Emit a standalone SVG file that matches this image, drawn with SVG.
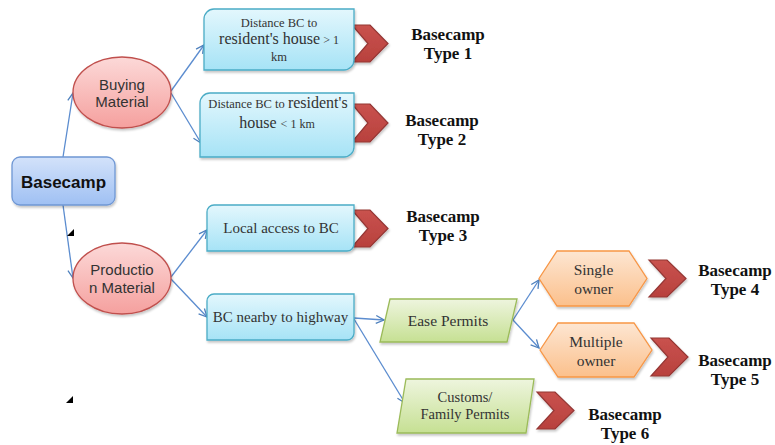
<svg xmlns="http://www.w3.org/2000/svg" width="775" height="445" viewBox="0 0 775 445">
<defs>
<linearGradient id="gBlue" x1="0" y1="0" x2="0" y2="1"><stop offset="0" stop-color="#d3e2fa"/><stop offset="1" stop-color="#9fc0f3"/></linearGradient>
<linearGradient id="gPink" x1="0" y1="0" x2="0" y2="1"><stop offset="0" stop-color="#fcd9d8"/><stop offset="1" stop-color="#f5a09e"/></linearGradient>
<linearGradient id="gCyan" x1="0" y1="0" x2="0" y2="1"><stop offset="0" stop-color="#e3f7fd"/><stop offset="1" stop-color="#a6e3f6"/></linearGradient>
<linearGradient id="gGreen" x1="0" y1="0" x2="0" y2="1"><stop offset="0" stop-color="#eef5de"/><stop offset="1" stop-color="#c6e093"/></linearGradient>
<linearGradient id="gOrange" x1="0" y1="0" x2="0" y2="1"><stop offset="0" stop-color="#fde6d2"/><stop offset="1" stop-color="#fbc08c"/></linearGradient>
<linearGradient id="gRed" x1="0" y1="0" x2="0" y2="1"><stop offset="0" stop-color="#c9524e"/><stop offset="1" stop-color="#b8413d"/></linearGradient>
<filter id="sh" x="-10%" y="-10%" width="130%" height="140%"><feDropShadow dx="1" dy="2" stdDeviation="1.2" flood-color="#000" flood-opacity="0.22"/></filter>
<marker id="ar" viewBox="0 0 10 10" refX="9" refY="5" markerWidth="10" markerHeight="10" markerUnits="userSpaceOnUse" orient="auto">
<path d="M1,1 L9,5 L1,9" fill="none" stroke="#4f81bd" stroke-width="1.3"/>
</marker>
</defs>
<style>
.con line{stroke:#5b8ccf;stroke-width:1.3;fill:none;marker-end:url(#ar)}
.cyan{fill:url(#gCyan);stroke:#4bacc6;stroke-width:1.3;filter:url(#sh)}
.green{fill:url(#gGreen);stroke:#9bbb59;stroke-width:1.3;filter:url(#sh)}
.orange{fill:url(#gOrange);stroke:#f79646;stroke-width:1.3;filter:url(#sh)}
.chev{fill:url(#gRed);stroke:#943634;stroke-width:1.2;filter:url(#sh)}
.ser{font-family:"Liberation Serif","DejaVu Serif",serif;fill:#333;text-anchor:middle}
.sans{font-family:"Liberation Sans",Arial,sans-serif;fill:#333;text-anchor:middle;font-size:15px}
.type{font-family:"Liberation Serif","DejaVu Serif",serif;font-weight:bold;font-size:17px;fill:#111;text-anchor:middle}
</style>
<rect width="775" height="445" fill="#fff"/>

<g id="chevrons">
<polygon class="chev" points="352,25 370,25 388,43.5 370,62 352,62 368,43.5"/>
<polygon class="chev" points="352,104 370,104 388,123 370,142 352,142 368,123"/>
<polygon class="chev" points="352,210 370,210 388,228.5 370,247 352,247 368,228.5"/>
<polygon class="chev" points="649,260 667,260 686,278.5 667,297 649,297 666,278.5"/>
<polygon class="chev" points="651,338 669,338 688,357 669,376 651,376 668,357"/>
<polygon class="chev" points="537,392 555,392 574,410.5 555,429 537,429 554,410.5"/>
</g>

<g class="con">
<line x1="63" y1="157" x2="73" y2="93"/>
<line x1="63" y1="205" x2="73" y2="278"/>
<line x1="171" y1="91" x2="204" y2="45"/>
<line x1="171" y1="93" x2="201" y2="143"/>
<line x1="171" y1="277" x2="207" y2="230"/>
<line x1="171" y1="279" x2="207" y2="317"/>
<line x1="354" y1="318" x2="384" y2="320"/>
<line x1="354" y1="319" x2="405" y2="403"/>
<line x1="513" y1="320" x2="539" y2="280"/>
<line x1="513" y1="320" x2="539" y2="348"/>
</g>

<g id="basecamp">
<rect x="12" y="157" width="103" height="48" rx="8" fill="url(#gBlue)" stroke="#6f97d4" stroke-width="1.3" filter="url(#sh)"/>
<text x="63.5" y="188" font-family="'Liberation Sans',Arial,sans-serif" font-weight="bold" font-size="17" fill="#111" text-anchor="middle">Basecamp</text>
</g>

<g id="buying">
<ellipse cx="122" cy="92.5" rx="49" ry="35.5" fill="url(#gPink)" stroke="#c0504d" stroke-width="1.3" filter="url(#sh)"/>
<text class="sans" x="122" y="90">Buying</text>
<text class="sans" x="122" y="107">Material</text>
</g>

<g id="production">
<ellipse cx="122" cy="278.5" rx="49" ry="35.5" fill="url(#gPink)" stroke="#c0504d" stroke-width="1.3" filter="url(#sh)"/>
<text class="sans" x="122" y="275">Productio</text>
<text class="sans" x="122" y="293">n Material</text>
</g>

<g id="box1">
<path class="cyan" d="M214,9 H354 V60 A10,10 0 0 1 344,70 H204 V19 A10,10 0 0 1 214,9 Z"/>
<text class="ser" x="279" y="27" font-size="12.5">Distance BC to</text>
<text class="ser" x="279" y="44"><tspan font-size="16">resident's house</tspan><tspan font-size="12"> &gt; 1</tspan></text>
<text class="ser" x="279" y="61" font-size="12.5">km</text>
</g>

<g id="box2">
<path class="cyan" d="M210,93 H354 V147 A10,10 0 0 1 344,157 H200 V103 A10,10 0 0 1 210,93 Z"/>
<text class="ser" x="278" y="108"><tspan font-size="12.5">Distance BC to </tspan><tspan font-size="16">resident's</tspan></text>
<text class="ser" x="277" y="128"><tspan font-size="16">house </tspan><tspan font-size="12"> &lt; 1 km</tspan></text>
</g>

<g id="box3">
<path class="cyan" d="M214,205 H354 V244 A7,7 0 0 1 347,251 H207 V212 A7,7 0 0 1 214,205 Z"/>
<text class="ser" x="281" y="233" font-size="15">Local access to BC</text>
</g>

<g id="box4">
<path class="cyan" d="M214,294 H354 V333 A7,7 0 0 1 347,340 H207 V301 A7,7 0 0 1 214,294 Z"/>
<text class="ser" x="280.5" y="322" font-size="15">BC nearby to highway</text>
</g>

<g id="ease">
<polygon class="green" points="390,299 517,299 507,342 380,342"/>
<text class="ser" x="448" y="326" font-size="15.5">Ease Permits</text>
</g>

<g id="customs">
<polygon class="green" points="406,379 534,379 526,433 397,433"/>
<text class="ser" x="465" y="402" font-size="14.5">Customs/</text>
<text class="ser" x="465" y="419" font-size="14.5">Family Permits</text>
</g>

<g id="single">
<polygon class="orange" points="539,278.5 557,251 629,251 647,278.5 629,306 557,306"/>
<text class="ser" x="593.5" y="275" font-size="15.5">Single</text>
<text class="ser" x="593.5" y="294" font-size="15.5">owner</text>
</g>

<g id="multiple">
<polygon class="orange" points="540,350 558,323 634,323 652,350 634,377 558,377"/>
<text class="ser" x="596" y="347" font-size="15.5">Multiple</text>
<text class="ser" x="596" y="366" font-size="15.5">owner</text>
</g>

<g id="types">
<text class="type" x="448" y="40">Basecamp</text>
<text class="type" x="448" y="59">Type 1</text>
<text class="type" x="442" y="126">Basecamp</text>
<text class="type" x="442" y="145">Type 2</text>
<text class="type" x="443" y="222">Basecamp</text>
<text class="type" x="443" y="241">Type 3</text>
<text class="type" x="735" y="276">Basecamp</text>
<text class="type" x="735" y="295">Type 4</text>
<text class="type" x="735" y="366">Basecamp</text>
<text class="type" x="735" y="385">Type 5</text>
<text class="type" x="625" y="420">Basecamp</text>
<text class="type" x="625" y="439">Type 6</text>
</g>

<g id="marks" fill="#000">
<polygon points="74,229 74,236 67,236"/>
<polygon points="73,396 73,403 66,403"/>
</g>
</svg>
